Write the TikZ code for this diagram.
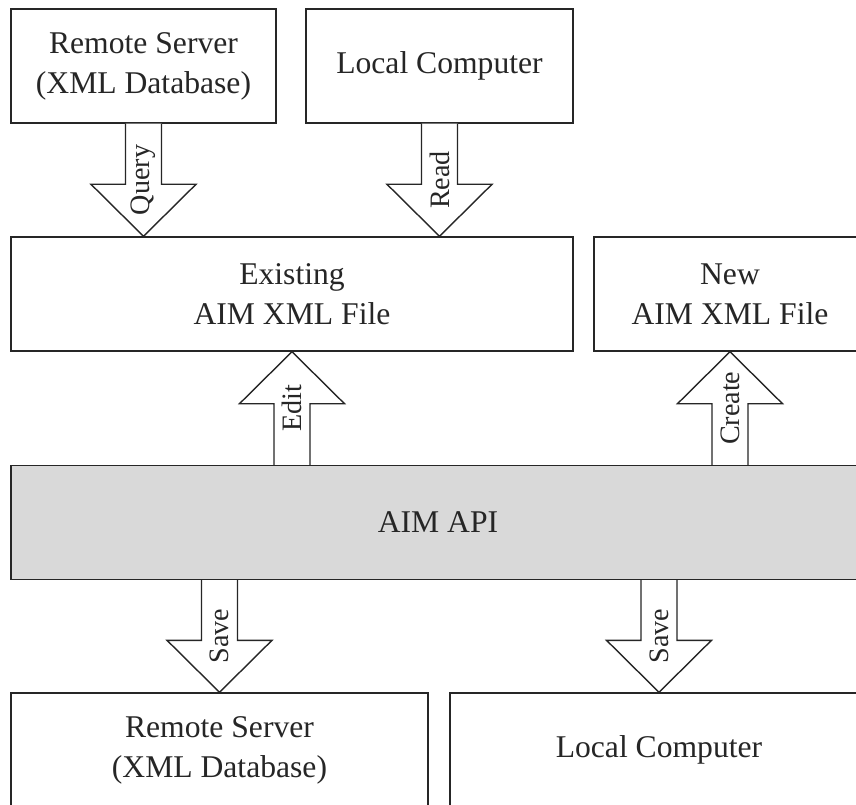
\documentclass[tikz,border=0pt]{standalone}
\usepackage{fontspec}
\setmainfont{Liberation Serif}
\usetikzlibrary{calc}

\tikzset{
  box/.style={rectangle, draw=black!85, line width=1.2pt, fill=white, text=black!85,
    minimum height=3.42cm, align=center, inner sep=0pt, font=\fontsize{27}{34}\selectfont},
  apibox/.style={box, fill=black!15},
  blockarrow/.style={draw=black!85, line width=1.2pt, fill=white, line join=miter},
  arrowlabel/.style={rotate=90, inner sep=0pt, text=black!85, font=\fontsize{24}{28}\selectfont}
}

% wide arrow from #1 to the tip #2, label #3
\newcommand{\blockarrow}[3]{%
  \coordinate (hb) at ($(#2)!1.56cm!(#1)$);
  \draw[blockarrow] ($(#1)!0.54cm!90:(#2)$) -- ($(hb)!0.54cm!90:(#2)$) -- ($(hb)!1.575cm!90:(#2)$)
    -- (#2) -- ($(hb)!1.575cm!-90:(#2)$) -- ($(hb)!0.54cm!-90:(#2)$) -- ($(#1)!0.54cm!-90:(#2)$);
  \node[arrowlabel] at ($(#1)!0.5!(#2)$) {#3};
}

\begin{document}
\begin{tikzpicture}[x=0.03cm, y=-0.03cm]
    \useasboundingbox (0,0) rectangle (856,805);
    \clip (0,0) rectangle (856,805);

    % Sources
    \node[box, minimum width=7.95cm] (remote) at (143.5,66) {Remote Server\\(XML Database)};
    \node[box, minimum width=8.01cm] (local) at (439.5,66) {Local Computer};

    % Files
    \node[box, minimum width=16.86cm] (existing) at (292,294) {Existing\\AIM XML File};
    \node[box, minimum width=8.16cm] (newfile) at (730,294) {New\\AIM XML File};

    % API
    \node[apibox, minimum width=25.62cm] (api) at (438,522.5) {AIM API};

    % Targets
    \node[box, minimum width=12.51cm] (remotesave) at (219.5,750) {Remote Server\\(XML Database)};
    \node[box, minimum width=12.54cm] (localsave) at (659,750) {Local Computer};

    % Arrows
    \blockarrow{remote.south}{remote.south |- existing.north}{Query}
    \blockarrow{local.south}{local.south |- existing.north}{Read}
    \blockarrow{api.north -| existing.south}{existing.south}{Edit}
    \blockarrow{api.north -| newfile.south}{newfile.south}{Create}
    \blockarrow{api.south -| remotesave.north}{remotesave.north}{Save}
    \blockarrow{api.south -| localsave.north}{localsave.north}{Save}
\end{tikzpicture}
\end{document}
